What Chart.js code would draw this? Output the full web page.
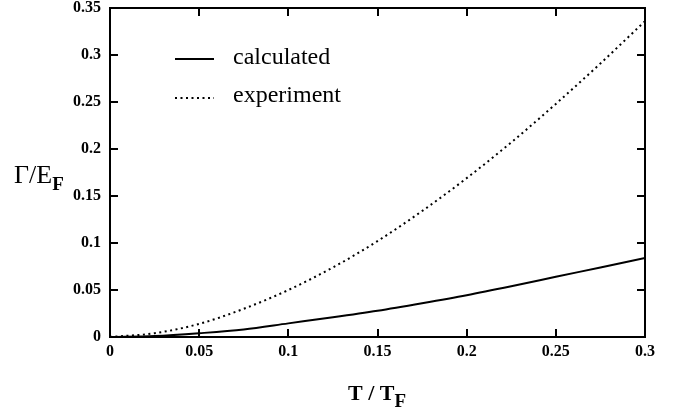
<!DOCTYPE html>
<html>
<head>
<meta charset="utf-8">
<script src="https://cdn.jsdelivr.net/npm/chart.js@4"></script>
<style>
  html, body { margin: 0; padding: 0; background: #fff; }
  #wrap { width: 683px; height: 415px; position: relative; }
</style>
</head>
<body>
<div id="wrap"><canvas id="gammaChart"></canvas></div>
<script>
// T / T_F
const tValues = [0, 0.025, 0.05, 0.075, 0.1, 0.125, 0.15, 0.175, 0.2, 0.225, 0.25, 0.275, 0.3];
// Gamma / E_F
const calculated = [0, 0.001, 0.004, 0.008, 0.0145, 0.021, 0.028, 0.036, 0.0445, 0.054, 0.064, 0.074, 0.084];
const experiment = [0, 0.004, 0.014, 0.03, 0.05, 0.074, 0.102, 0.134, 0.169, 0.207, 0.248, 0.291, 0.336];

const xTicks = [0, 0.05, 0.1, 0.15, 0.2, 0.25, 0.3];
const yTicks = [0, 0.05, 0.1, 0.15, 0.2, 0.25, 0.3, 0.35];
const seriesNames = ['calculated', 'experiment'];

const SERIF = '"Liberation Serif", "DejaVu Serif", serif';

function toPoints(ys) {
    return tValues.map((t, i) => ({ x: t, y: ys[i] }));
}

// frame, inward ticks on all sides, axis titles and legend
const decorations = {
    id: 'decorations',
    afterDatasetsDraw(chart) {
        const ctx = chart.ctx;
        const a = chart.chartArea;
        const xs = chart.scales.x, ys = chart.scales.y;
        ctx.save();
        ctx.strokeStyle = '#000';
        ctx.lineWidth = 2;
        ctx.strokeRect(a.left, a.top, a.right - a.left, a.bottom - a.top);

        const len = 8;
        ctx.beginPath();
        xTicks.forEach(v => {
            const px = Math.round(xs.getPixelForValue(v));
            ctx.moveTo(px, a.bottom); ctx.lineTo(px, a.bottom - len);
            ctx.moveTo(px, a.top); ctx.lineTo(px, a.top + len);
        });
        yTicks.forEach(v => {
            const py = Math.round(ys.getPixelForValue(v));
            ctx.moveTo(a.left, py); ctx.lineTo(a.left + len, py);
            ctx.moveTo(a.right, py); ctx.lineTo(a.right - len, py);
        });
        ctx.stroke();

        // legend
        ctx.fillStyle = '#000';
        ctx.font = '24px ' + SERIF;
        ctx.textBaseline = 'middle';
        ctx.textAlign = 'left';
        ctx.lineWidth = 2;
        ctx.beginPath();
        ctx.moveTo(175, 59); ctx.lineTo(214, 59);
        ctx.stroke();
        ctx.fillText(seriesNames[0], 233, 58);
        ctx.setLineDash([2, 3.5]);
        ctx.beginPath();
        ctx.moveTo(175, 98); ctx.lineTo(214, 98);
        ctx.stroke();
        ctx.setLineDash([]);
        ctx.fillText(seriesNames[1], 233, 96);

        // y title: Γ/E_F
        ctx.font = '26px ' + SERIF;
        ctx.textBaseline = 'alphabetic';
        ctx.fillText('\u0393/E', 14, 183);
        const w = ctx.measureText('\u0393/E').width;
        ctx.font = 'bold 19px ' + SERIF;
        ctx.fillText('F', 14 + w, 190);

        // x title: T / T_F
        ctx.font = 'bold 22px ' + SERIF;
        ctx.fillText('T / T', 348, 400);
        const w2 = ctx.measureText('T / T').width;
        ctx.font = 'bold 19px ' + SERIF;
        ctx.fillText('F', 348 + w2, 407);
        ctx.restore();
    }
};

new Chart(document.getElementById('gammaChart'), {
    type: 'line',
    data: {
        datasets: [{
            label: seriesNames[0],
            data: toPoints(calculated),
            borderColor: '#000',
            borderWidth: 2,
            pointRadius: 0,
            cubicInterpolationMode: 'monotone'
        }, {
            label: seriesNames[1],
            data: toPoints(experiment),
            borderColor: '#000',
            borderWidth: 2,
            borderDash: [2, 3.5],
            pointRadius: 0,
            cubicInterpolationMode: 'monotone'
        }]
    },
    options: {
        responsive: true,
        maintainAspectRatio: false,
        animation: false,
        layout: { padding: { left: 0, right: 38, top: 8, bottom: 0 } },
        plugins: { legend: { display: false }, tooltip: { enabled: false } },
        scales: {
            x: {
                type: 'linear',
                min: 0, max: 0.3,
                afterBuildTicks: s => { s.ticks = xTicks.map(v => ({ value: v })); },
                afterFit: s => { s.height = 78; s.paddingRight = 0; s.paddingLeft = 0; },
                grid: { display: false, drawTicks: false },
                border: { display: false },
                ticks: {
                    color: '#000',
                    padding: 5,
                    maxRotation: 0,
                    font: { family: SERIF, size: 16, weight: 'bold' },
                    callback: v => String(v)
                }
            },
            y: {
                type: 'linear',
                min: 0, max: 0.35,
                afterBuildTicks: s => { s.ticks = yTicks.map(v => ({ value: v })); },
                afterFit: s => { s.width = 110; s.paddingTop = 0; s.paddingBottom = 0; },
                grid: { display: false, drawTicks: false },
                border: { display: false },
                ticks: {
                    color: '#000',
                    padding: 9,
                    font: { family: SERIF, size: 16, weight: 'bold' },
                    callback: v => String(v)
                }
            }
        }
    },
    plugins: [decorations]
});
</script>
</body>
</html>
